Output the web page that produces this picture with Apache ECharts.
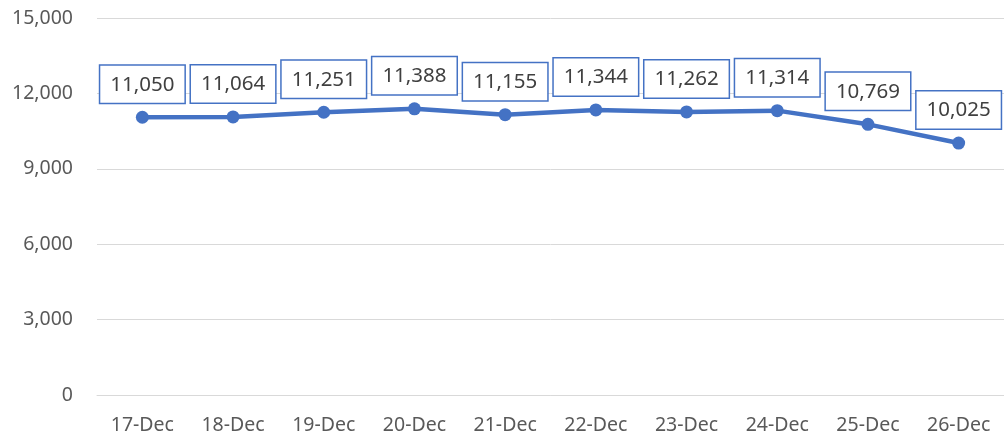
<!DOCTYPE html>
<html><head><meta charset="utf-8">
<script src="https://cdn.jsdelivr.net/npm/echarts@6/dist/echarts.min.js"></script>
<style>html,body{margin:0;padding:0;background:#fff}#c{width:1004px;height:440px}</style>
</head><body><div id="c"></div>
<script>
const categories = ['17-Dec','18-Dec','19-Dec','20-Dec','21-Dec','22-Dec','23-Dec','24-Dec','25-Dec','26-Dec'];
const values = [11050, 11064, 11251, 11388, 11155, 11344, 11262, 11314, 10769, 10025];
const yTicks = [0, 3000, 6000, 9000, 12000, 15000];

const chart = echarts.init(document.getElementById('c'));
const font = '"Noto Sans", "Open Sans", sans-serif';
chart.setOption({
  animation: false,
  grid: { left: 97, right: 0, top: 18, bottom: 45, containLabel: false },
  xAxis: {
    type: 'category', data: categories, boundaryGap: true,
    axisLine: { lineStyle: { color: '#d9d9d9', width: 1 } },
    axisTick: { show: false },
    axisLabel: { color: '#595959', fontSize: 19.5, fontFamily: font, margin: 20 }
  },
  yAxis: {
    type: 'value', min: yTicks[0], max: yTicks[yTicks.length-1], interval: 3000,
    axisLine: { show: false }, axisTick: { show: false },
    splitLine: { lineStyle: { color: '#d9d9d9', width: 1 } },
    axisLabel: { color: '#595959', fontSize: 19.5, fontFamily: font, margin: 24,
      formatter: v => v.toLocaleString('en-US') }
  },
  series: [{
    type: 'line', data: values,
    lineStyle: { color: '#4472C4', width: 4.5 },
    itemStyle: { color: '#4472C4' },
    symbol: 'circle', symbolSize: 13,
    label: {
      show: true, position: 'top', distance: 8,
      formatter: p => p.value.toLocaleString('en-US'),
      color: '#404040', fontSize: 20.5, fontFamily: font, lineHeight: 24,
      backgroundColor: '#fff', borderColor: '#4472C4', borderWidth: 1.5,
      padding: [7, 10, 6, 10]
    }
  }]
});
</script></body></html>
